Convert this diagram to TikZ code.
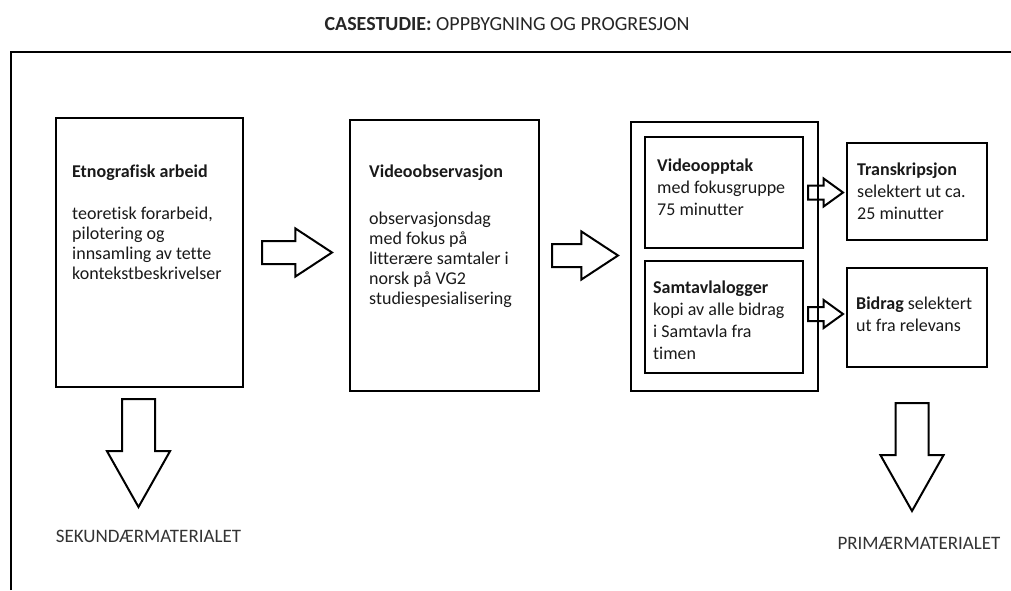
\documentclass[tikz,border=0pt]{standalone}
\usepackage{fontspec}
\setmainfont[Ligatures=NoCommon]{Carlito}
\usetikzlibrary{positioning, shapes.arrows}

\tikzset{
    box/.style={draw, line width=2.5pt, anchor=north west, inner sep=0pt, outer sep=0pt},
    boxtext/.style={anchor=north west, inner sep=0pt, align=left, text=black!90, font=\fontsize{18}{20}\selectfont},
    tighttext/.style={boxtext, font=\fontsize{18}{22}\selectfont},
    blockarrow/.style={single arrow, draw, line width=2pt, single arrow head indent=0pt, inner xsep=0pt, outer sep=0pt, anchor=tail},
    bigarrow/.style={blockarrow, inner ysep=10.5pt, single arrow head extend=12.5pt, single arrow tip angle=66.6, minimum height=70pt},
    smallarrow/.style={blockarrow, inner ysep=6pt, single arrow head extend=7pt, single arrow tip angle=71.7, minimum height=35pt},
    downarrow/.style={blockarrow, inner ysep=15.5pt, single arrow head extend=15pt, single arrow tip angle=58.9, minimum height=108pt, rotate=-90},
    material/.style={anchor=base, inner sep=0pt, text=black!80, font=\fontsize{19}{22}\selectfont},
}

\begin{document}
\begin{tikzpicture}[x=1pt, y=-1pt]
    \useasboundingbox (0,0) rectangle (1011,590);
    \draw[line width=2.5pt] (11,590) -- (11,52) -- (1011,52);

    \node[material, text=black!85, font=\fontsize{20}{24}\selectfont] (Titel) at (507,30) {\textbf{CASESTUDIE:} OPPBYGNING OG PROGRESJON};

    \node[box, minimum width=187pt, minimum height=269pt] (Etno)         at (56,118)  {};
    \node[box, minimum width=189pt, minimum height=271pt] (Videoobs)     at (350,120) {};
    \node[box, minimum width=187pt, minimum height=269pt] (Gruppe)       at (631,122) {};
    \node[box, minimum width=158pt, minimum height=111pt] (Videoopptak)  at (645,137) {};
    \node[box, minimum width=158pt, minimum height=112pt] (Samtavla)     at (645,261) {};
    \node[box, minimum width=140pt, minimum height=97pt]  (Transkripsjon) at (847,143) {};
    \node[box, minimum width=140pt, minimum height=99pt]  (Bidrag)       at (847,268) {};

    \node[boxtext, below right=46.4pt and 16pt of Etno.north west] (Etno tekst)
        {\textbf{Etnografisk arbeid}\\[22pt]teoretisk forarbeid,\\pilotering og\\innsamling av tette\\kontekstbeskrivelser};
    \node[boxtext, below right=44.4pt and 19pt of Videoobs.north west] (Videoobs tekst)
        {\textbf{Videoobservasjon}\\[27pt]observasjonsdag\\med fokus på\\litterære samtaler i\\norsk på VG2\\studiespesialisering};
    \node[tighttext, below right=21.4pt and 12pt of Videoopptak.north west] (Videoopptak tekst)
        {\textbf{Videoopptak}\\med fokusgruppe\\75 minutter};
    \node[tighttext, below right=19.4pt and 8pt of Samtavla.north west] (Samtavla tekst)
        {\textbf{Samtavlalogger}\\kopi av alle bidrag\\i Samtavla fra\\timen};
    \node[tighttext, below right=19.4pt and 10pt of Transkripsjon.north west] (Transkripsjon tekst)
        {\textbf{Transkripsjon}\\selektert ut ca.\\25 minutter};
    \node[tighttext, below right=28.4pt and 9pt of Bidrag.north west] (Bidrag tekst)
        {\textbf{Bidrag} selektert\\ut fra relevans};

    \node[bigarrow]   (Pil 1) at ([xshift=19pt]Etno.east)        {};
    \node[bigarrow, minimum height=66pt] (Pil 2) at ([xshift=13pt]Videoobs.east) {};
    \node[smallarrow] (Pil 3) at ([xshift=5pt]Videoopptak.east)  {};
    \node[smallarrow] (Pil 4) at ([xshift=5pt, yshift=3pt]Samtavla.east) {};
    \node[downarrow]  (Ned 1) at ([xshift=-11pt, yshift=-12pt]Etno.south) {};
    \node[downarrow]  (Ned 2) at ([xshift=-5pt, yshift=-12pt]Transkripsjon.south |- Gruppe.south) {};

    \node[material] (Sekundaer) at ([xshift=10pt, yshift=-35pt]Ned 1.tip) {SEKUNDÆRMATERIALET};
    \node[material] (Primaer)   at ([xshift=7pt, yshift=-38pt]Ned 2.tip)  {PRIMÆRMATERIALET};
\end{tikzpicture}
\end{document}
